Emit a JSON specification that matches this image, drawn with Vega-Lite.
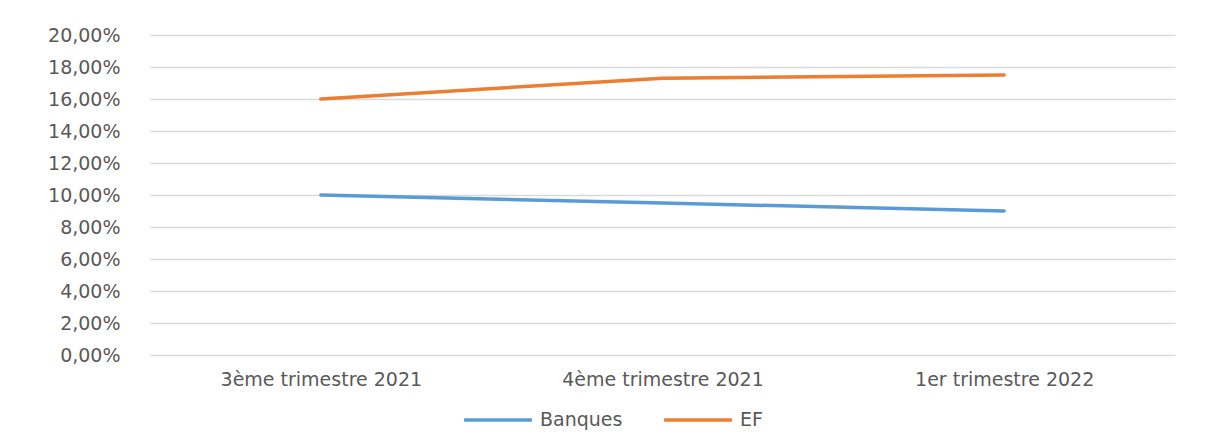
{
  "$schema": "https://vega.github.io/schema/vega-lite/v6.json",
  "width": 1025,
  "height": 320,
  "autosize": {"type": "none"},
  "padding": {"left": 150, "top": 35, "right": 33, "bottom": 89},
  "background": "white",
  "data": {
    "values": [
      {"periode": "3ème trimestre 2021", "serie": "Banques", "valeur": 0.100},
      {"periode": "4ème trimestre 2021", "serie": "Banques", "valeur": 0.095},
      {"periode": "1er trimestre 2022", "serie": "Banques", "valeur": 0.090},
      {"periode": "3ème trimestre 2021", "serie": "EF", "valeur": 0.160},
      {"periode": "4ème trimestre 2021", "serie": "EF", "valeur": 0.173},
      {"periode": "1er trimestre 2022", "serie": "EF", "valeur": 0.175}
    ]
  },
  "config": {
    "view": {"stroke": null},
    "font": "DejaVu Sans",
    "axis": {"labelColor": "#595959", "domain": false, "ticks": false, "title": null}
  },
  "mark": {"type": "line", "strokeWidth": 3.5, "strokeCap": "round"},
  "encoding": {
    "x": {
      "field": "periode",
      "type": "nominal",
      "sort": ["3ème trimestre 2021", "4ème trimestre 2021", "1er trimestre 2022"],
      "scale": {"paddingInner": 0, "paddingOuter": 0.5},
      "axis": {"labelAngle": 0, "labelFontSize": 19, "labelPadding": 15, "grid": false, "labelFont": "DejaVu Sans", "labelLimit": 0}
    },
    "y": {
      "field": "valeur",
      "type": "quantitative",
      "scale": {"domain": [0, 0.2], "nice": false},
      "axis": {
        "values": [0, 0.02, 0.04, 0.06, 0.08, 0.1, 0.12, 0.14, 0.16, 0.18, 0.2],
        "labelExpr": "replace(format(datum.value, '.2%'), '.', ',')",
        "labelFontSize": 19,
        "labelPadding": 30,
        "grid": true,
        "gridColor": "#d9d9d9",
        "gridWidth": 1.5
      }
    },
    "color": {
      "field": "serie",
      "type": "nominal",
      "scale": {"domain": ["Banques", "EF"], "range": ["#5b9bd5", "#ed7d31"]},
      "legend": {
        "title": null,
        "orient": "none",
        "legendX": 312,
        "legendY": 349,
        "direction": "horizontal",
        "symbolType": "stroke",
        "symbolSize": 4600,
        "symbolStrokeWidth": 3.5,
        "labelFontSize": 19,
        "labelColor": "#595959",
        "columnPadding": 34,
        "labelOffset": 6
      }
    }
  }
}
